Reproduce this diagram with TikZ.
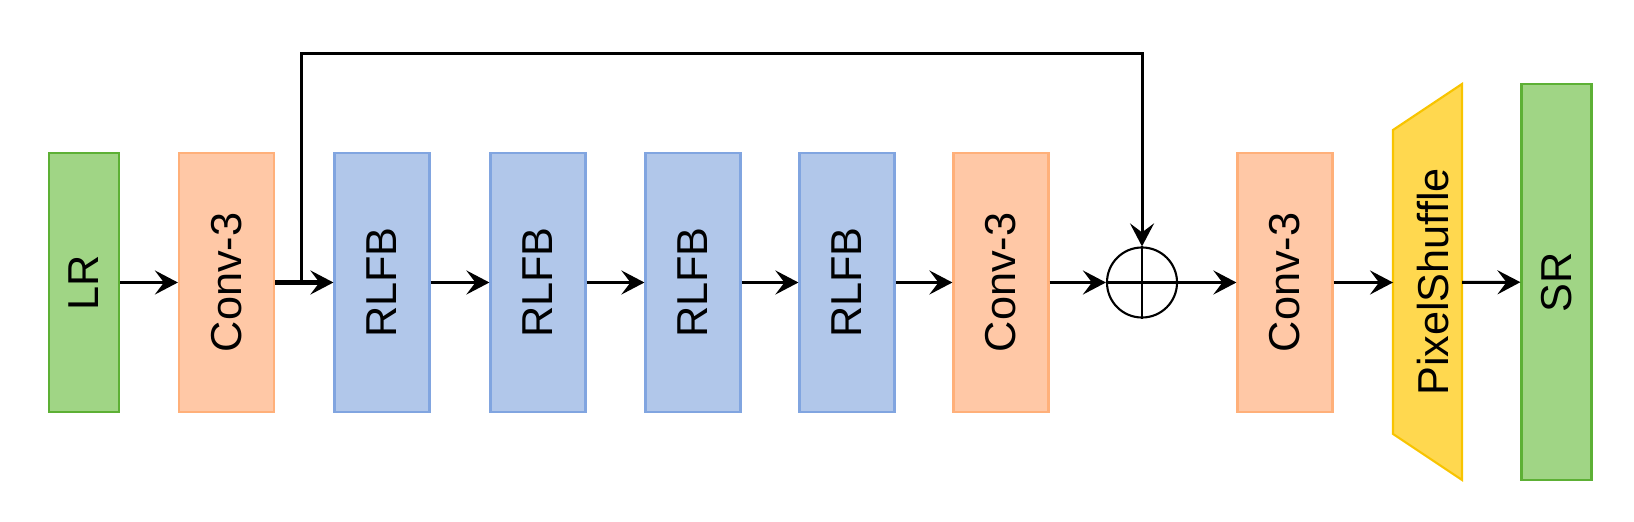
\documentclass[tikz,border=0pt]{standalone}
\usepackage{graphicx}
\usepackage{fontspec}
\setmainfont{Liberation Sans}
\usepackage{tikz}
\usetikzlibrary{arrows.meta}
\definecolor{lrfill}{HTML}{A0D585}
\definecolor{lrline}{HTML}{5DB035}
\definecolor{convfill}{HTML}{FFC8A6}
\definecolor{convline}{HTML}{FFB07A}
\definecolor{rlfbfill}{HTML}{B1C7EA}
\definecolor{rlfbline}{HTML}{81A5E0}
\definecolor{shuffill}{HTML}{FFD84F}
\definecolor{shufline}{HTML}{F8C400}
\tikzset{
  blockbox/.style={rectangle, line width=0.6pt, inner sep=0pt, minimum height=2.59cm, minimum width=0.95cm, font=\fontsize{12.3}{15}\selectfont},
  imgbox/.style={blockbox, fill=lrfill, draw=lrline, minimum width=0.70cm},
  convbox/.style={blockbox, fill=convfill, draw=convline},
  rlfbbox/.style={blockbox, fill=rlfbfill, draw=rlfbline},
  shufbox/.style={fill=shuffill, draw=shufline, line width=0.6pt, line join=miter},
  addnode/.style={circle, draw, line width=0.6pt, minimum size=0.70cm, inner sep=0pt},
  arr/.style={draw, line width=0.85pt, -{Stealth[length=0.23cm, width=0.24cm, inset=0.09cm]}},
}
\begin{document}
\begin{tikzpicture}[x=0.01cm, y=-0.01cm]
\useasboundingbox (0,0) rectangle (1634,522);
\node[imgbox] (lr) at (84,282.5) {\rotatebox{90}{LR}};
\node[convbox] (conv1) at (226.5,282.5) {\rotatebox{90}{Conv-3}};
\node[rlfbbox] (rlfb1) at (382,282.5) {\rotatebox{90}{RLFB}};
\node[rlfbbox] (rlfb2) at (538,282.5) {\rotatebox{90}{RLFB}};
\node[rlfbbox] (rlfb3) at (693,282.5) {\rotatebox{90}{RLFB}};
\node[rlfbbox] (rlfb4) at (847,282.5) {\rotatebox{90}{RLFB}};
\node[convbox] (conv2) at (1001,282.5) {\rotatebox{90}{Conv-3}};
\node[addnode] (add) at (1142,282.5) {};
\draw[line width=0.6pt] (add.north) -- (add.south) (add.west) -- (add.east);
\node[convbox] (conv3) at (1285,282.5) {\rotatebox{90}{Conv-3}};
\filldraw[shufbox] (1393,130) -- (1462,84) -- (1462,480) -- (1393,434) -- cycle;
\node[font=\fontsize{12.3}{15}\selectfont, inner sep=0pt] (ps) at (1433,282) {\rotatebox{90}{PixelShuffle}};
\coordinate (psin) at (1393,282.5);
\coordinate (psout) at (1462,282.5);
\node[imgbox, minimum height=3.96cm] (sr) at (1556.5,282) {\rotatebox{90}{SR}};
\draw[arr] (lr) -- (conv1);
\draw[arr, line width=1.3pt] (conv1) -- (rlfb1);
\draw[arr] (rlfb1) -- (rlfb2);
\draw[arr] (rlfb2) -- (rlfb3);
\draw[arr] (rlfb3) -- (rlfb4);
\draw[arr] (rlfb4) -- (conv2);
\draw[arr] (conv2) -- (add);
\draw[arr] (add) -- (conv3);
\draw[arr] (conv3) -- (psin);
\draw[arr] (psout) -- (sr);
\draw[arr, line join=miter] (conv1.east) -- (301,282.5) |- (1142,54) -- (add.north);
\end{tikzpicture}
\end{document}
